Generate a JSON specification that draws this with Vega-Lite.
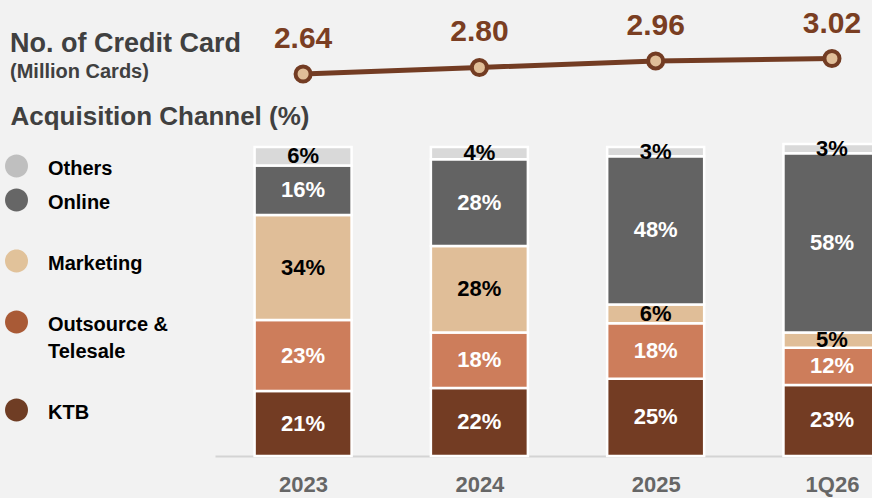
{
  "$schema": "https://vega.github.io/schema/vega-lite/v6.json",
  "width": 657,
  "height": 309,
  "autosize": {"type": "none"},
  "padding": {"left": 215, "top": 147, "right": 0, "bottom": 42},
  "background": "#F2F2F2",
  "config": {"font": "Liberation Sans", "view": {"stroke": null}, "style": {"guide-label": {"lineHeight": 27}}},
  "title": {
    "text": "No. of Credit Card",
    "subtitle": "(Million Cards)",
    "anchor": "start",
    "frame": "group",
    "dx": -205,
    "dy": 78,
    "fontSize": 27,
    "fontWeight": "bold",
    "color": "#404040",
    "subtitleFontSize": 20,
    "subtitleFontWeight": "bold",
    "subtitleColor": "#404040",
    "subtitlePadding": 4
  },
  "datasets": {
    "cards": [
      {"period": "2023", "cards": 2.64},
      {"period": "2024", "cards": 2.80},
      {"period": "2025", "cards": 2.96},
      {"period": "1Q26", "cards": 3.02}
    ],
    "channels": [
      {"period": "2023", "channel": "KTB", "share": 0.21, "rank": 1},
      {"period": "2023", "channel": "Outsource & Telesale", "share": 0.23, "rank": 2},
      {"period": "2023", "channel": "Marketing", "share": 0.34, "rank": 3},
      {"period": "2023", "channel": "Online", "share": 0.16, "rank": 4},
      {"period": "2023", "channel": "Others", "share": 0.06, "rank": 5},
      {"period": "2024", "channel": "KTB", "share": 0.22, "rank": 1},
      {"period": "2024", "channel": "Outsource & Telesale", "share": 0.18, "rank": 2},
      {"period": "2024", "channel": "Marketing", "share": 0.28, "rank": 3},
      {"period": "2024", "channel": "Online", "share": 0.28, "rank": 4},
      {"period": "2024", "channel": "Others", "share": 0.04, "rank": 5},
      {"period": "2025", "channel": "KTB", "share": 0.25, "rank": 1},
      {"period": "2025", "channel": "Outsource & Telesale", "share": 0.18, "rank": 2},
      {"period": "2025", "channel": "Marketing", "share": 0.06, "rank": 3},
      {"period": "2025", "channel": "Online", "share": 0.48, "rank": 4},
      {"period": "2025", "channel": "Others", "share": 0.03, "rank": 5},
      {"period": "1Q26", "channel": "KTB", "share": 0.23, "rank": 1},
      {"period": "1Q26", "channel": "Outsource & Telesale", "share": 0.12, "rank": 2},
      {"period": "1Q26", "channel": "Marketing", "share": 0.05, "rank": 3},
      {"period": "1Q26", "channel": "Online", "share": 0.58, "rank": 4},
      {"period": "1Q26", "channel": "Others", "share": 0.03, "rank": 5}
    ]
  },
  "encoding": {
    "x": {
      "field": "period",
      "type": "ordinal",
      "scale": {"type": "point", "domain": ["2023", "2024", "2025", "1Q26"], "padding": 0.3634, "align": 0.6875},
      "axis": {
        "title": null,
        "labelAngle": 0,
        "ticks": false,
        "tickSize": 0,
        "labelPadding": 18,
        "labelFontSize": 22,
        "labelFontWeight": "bold",
        "labelColor": "#666666",
        "domainColor": "#D4D4D4",
        "domainWidth": 2,
        "grid": false
      }
    }
  },
  "layer": [
    {
      "data": {"name": "channels"},
      "layer": [
        {
          "mark": {"type": "bar", "width": 97, "stroke": "#FFFFFF", "strokeWidth": 2.5},
          "encoding": {
            "y": {
              "field": "share",
              "type": "quantitative",
              "stack": "zero",
              "scale": {"domain": [0, 1], "nice": false},
              "axis": {
                "title": "Acquisition Channel (%)",
                "titleAngle": 0,
                "titleX": -205,
                "titleY": -23,
                "titleAlign": "left",
                "titleBaseline": "alphabetic",
                "titleFontSize": 26,
                "titleFontWeight": "bold",
                "titleColor": "#404040",
                "labels": false,
                "ticks": false,
                "domain": false,
                "grid": false
              }
            },
            "color": {
              "field": "channel",
              "type": "nominal",
              "scale": {
                "domain": ["KTB", "Outsource & Telesale", "Marketing", "Online", "Others"],
                "range": ["#733C23", "#CD7D5B", "#E0BE98", "#636363", "#D9D9D9"]
              },
              "legend": null
            },
            "order": {"field": "rank", "type": "quantitative"}
          }
        },
        {
          "mark": {"type": "point", "filled": true, "size": 0},
          "encoding": {
            "fill": {
              "field": "channel",
              "type": "nominal",
              "scale": {
                "domain": ["Others", "Online", "Marketing", "Outsource & Telesale", "KTB"],
                "range": ["#BFBFBF", "#666666", "#E1C29A", "#A95A36", "#6F3D24"]
              },
              "legend": {
                "orient": "none",
                "legendX": -210,
                "legendY": 16,
                "title": null,
                "padding": 0,
                "symbolType": "M -1,-0.75 A 1,1 0 1,0 1,-0.75 A 1,1 0 1,0 -1,-0.75 Z",
                "symbolSize": 529,
                "symbolStrokeWidth": 0,
                "symbolOpacity": 1,
                "labelFontSize": 20,
                "labelFontWeight": "bold",
                "labelColor": "#000000",
                "labelBaseline": "alphabetic",
                "labelOffset": 20,
                "labelLimit": 300,
                "rowPadding": 9,
                "labelExpr": "datum.label === 'Online' ? ['Online', ''] : datum.label === 'Marketing' ? ['Marketing', ''] : datum.label === 'Outsource & Telesale' ? ['Outsource &', 'Telesale', ''] : datum.label"
              }
            }
          }
        },
        {
          "mark": {"type": "text", "fontSize": 22, "fontWeight": "bold", "baseline": "middle", "align": "center"},
          "encoding": {
            "y": {"field": "share", "type": "quantitative", "stack": "zero", "bandPosition": 0.5},
            "detail": {"field": "channel"},
            "order": {"field": "rank", "type": "quantitative"},
            "text": {"field": "share", "type": "quantitative", "format": ".0%"},
            "fill": {
              "condition": {"test": "datum.channel === 'Others' || datum.channel === 'Marketing'", "value": "#000000"},
              "value": "#FFFFFF"
            }
          }
        }
      ]
    },
    {
      "data": {"name": "cards"},
      "encoding": {
        "y": {
          "field": "cards",
          "type": "quantitative",
          "scale": {"domain": [-6.723, 0.851], "nice": false, "zero": false},
          "axis": null
        }
      },
      "layer": [
        {"mark": {"type": "line", "color": "#733C23", "strokeWidth": 5}},
        {"mark": {"type": "point", "shape": "circle", "filled": false, "size": 227, "fill": "#E0BE98", "fillOpacity": 1, "stroke": "#733C23", "strokeWidth": 4, "opacity": 1}},
        {
          "mark": {"type": "text", "fontSize": 30, "fontWeight": "bold", "color": "#7A3E22", "baseline": "alphabetic", "dy": -26},
          "encoding": {"text": {"field": "cards", "type": "quantitative", "format": ".2f"}}
        }
      ]
    }
  ],
  "resolve": {"scale": {"y": "independent"}}
}
